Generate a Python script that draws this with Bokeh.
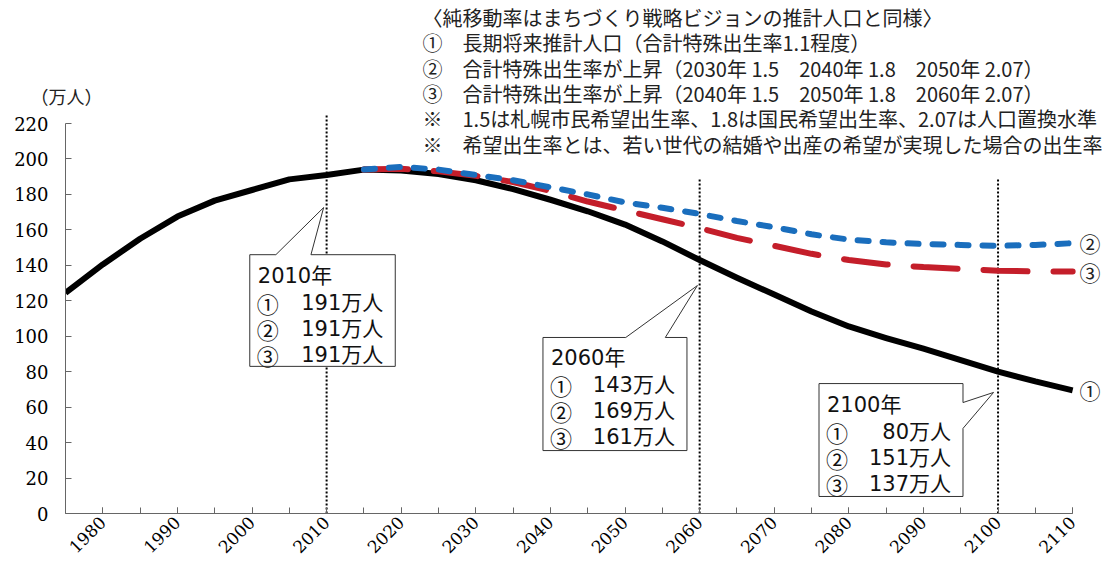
import math
from bokeh.plotting import figure
from bokeh.models import FixedTicker, Label, LinearAxis
from bokeh.embed import file_html
from bokeh.resources import INLINE

# ---------------- data ----------------
years = [1975, 1980, 1985, 1990, 1995, 2000, 2005, 2010, 2015, 2020, 2025, 2030, 2035, 2040,
         2045, 2050, 2055, 2060, 2065, 2070, 2075, 2080, 2085, 2090, 2095, 2100, 2105, 2110]
pop1 = [124.5, 140.5, 155, 167.5, 176.5, 182.5, 188.5, 191, 194, 193.5, 191.5, 188, 183, 177,
        170.5, 163, 153.5, 143, 133, 123.5, 114, 105.5, 99, 93, 86.5, 80, 74.5, 69.5]

years_proj = [2015, 2020, 2025, 2030, 2035, 2040, 2045, 2050, 2055, 2060,
              2065, 2070, 2075, 2080, 2085, 2090, 2095, 2100, 2105, 2110]
pop2 = [194, 195.5, 194, 191, 188, 184, 180, 175.5, 172.5, 169,
        165, 161.5, 157.5, 154.5, 153, 152, 151.5, 151, 151.5, 152.5]
pop3 = [194, 194.5, 193, 190.5, 187, 182, 176, 171, 166, 161,
        155.5, 151, 146.5, 143, 140.5, 139, 138, 137, 136.5, 136.5]

x_ticks = list(range(1980, 2111, 10))
x_minor = list(range(1975, 2111, 5))
y_ticks = list(range(0, 221, 20))

marker_years = [2010, 2060, 2100]
callout_titles = ["2010年", "2060年", "2100年"]
callout_vals = [["191万人", "191万人", "191万人"],
                ["143万人", "169万人", "161万人"],
                ["80万人", "151万人", "137万人"]]
circled = ["①", "②", "③"]

notes = [
    "〈純移動率はまちづくり戦略ビジョンの推計人口と同様〉",
    "①　長期将来推計人口（合計特殊出生率1.1程度）",
    "②　合計特殊出生率が上昇（2030年 1.5　2040年 1.8　2050年 2.07）",
    "③　合計特殊出生率が上昇（2040年 1.5　2050年 1.8　2060年 2.07）",
    "※　1.5は札幌市民希望出生率、1.8は国民希望出生率、2.07は人口置換水準",
    "※　希望出生率とは、若い世代の結婚や出産の希望が実現した場合の出生率",
]
unit_label = "（万人）"
unit_label_y = 235.8

# ---------------- figure ----------------
# frame spans to the top and right edges of the canvas so that the notes and
# end labels (drawn as annotations) are not clipped; axes are bounded to the data span
p = figure(width=1102, height=562, output_backend="svg", toolbar_location=None,
           x_range=(1975, 2114.0), y_range=(0, 289.4),
           min_border_left=65, min_border_right=0, min_border_top=0, min_border_bottom=49)
p.title.visible = False
p.outline_line_color = None
p.xgrid.visible = False
p.ygrid.visible = False
p.background_fill_color = "white"

serif = "DejaVu Serif"
cjk = "Noto Sans CJK JP"
boxfont = "DejaVu Sans, Noto Sans CJK JP"

xa = p.xaxis[0]
xa.bounds = (1975, 2110)
xa.ticker = FixedTicker(ticks=x_ticks, minor_ticks=x_minor)
xa.major_label_orientation = math.pi / 4
xa.major_tick_in = 6
xa.major_tick_out = 0
xa.minor_tick_in = 6
xa.minor_tick_out = 0
xa.axis_line_color = "#666666"
xa.major_tick_line_color = "#666666"
xa.minor_tick_line_color = "#666666"
xa.major_label_text_font = serif
xa.major_label_text_font_size = "17px"
xa.major_label_text_color = "black"
xa.major_label_standoff = 6

ya = p.yaxis[0]
ya.bounds = (0, 220)
ya.ticker = FixedTicker(ticks=y_ticks)
ya.major_tick_in = 6
ya.major_tick_out = 0
ya.minor_tick_line_color = None
ya.axis_line_color = "#666666"
ya.major_tick_line_color = "#666666"
ya.major_label_text_font = serif
ya.major_label_text_font_size = "18px"
ya.major_label_text_color = "black"
ya.major_label_standoff = 17

# unit label drawn by a line-less helper axis (outermost in the left panel)
ua = LinearAxis(ticker=FixedTicker(ticks=[unit_label_y]),
                major_label_overrides={unit_label_y: unit_label},
                major_label_standoff=-91,
                axis_line_color=None, major_tick_line_color=None, minor_tick_line_color=None,
                major_tick_in=0, major_tick_out=0,
                major_label_text_font=cjk, major_label_text_font_size="18px",
                major_label_text_color="#222222")
p.add_layout(ua, "left")

# dotted marker lines
p.segment(x0=marker_years, y0=[0, 0, 0], x1=marker_years, y1=[224.5, 189.5, 189.5],
          line_color="black", line_width=2, line_dash="2 2")

# series
p.line(years, pop1, line_color="black", line_width=6, line_join="round")
p.line(years_proj, pop3, line_color="#c41e2a", line_width=6, line_dash="44 26", line_cap="round")
p.line(years_proj, pop2, line_color="#1a6ebd", line_width=6, line_dash="11 14", line_cap="round")

# end labels (x in screen px relative to frame, y in data)
end_vals = [pop1[-1], pop2[-1], pop3[-1]]
for c, v in zip(circled, end_vals):
    p.add_layout(Label(x=1014, y=v, x_units="screen", y_units="data", text=c, text_font=cjk,
                       text_font_size="21px", text_color="#222222",
                       text_baseline="middle", text_align="left"))

# callout boxes (layout geometry in data units)
boxes = [
    dict(L=1999.7, R=2019.2, T=146.0, B=83.0, kind="top", b1=2003.2, b2=2007.9, tip=(2009.6, 172.6)),
    dict(L=2039.0, R=2058.3, T=99.3, B=35.5, kind="top", b1=2050.1, b2=2055.4, tip=(2059.7, 128.6)),
    dict(L=2076.0, R=2095.3, T=73.3, B=9.6, kind="right", b1=62.6, b2=48.0, tip=(2099.4, 68.3)),
]
for bx, yr, title, vals in zip(boxes, marker_years, callout_titles, callout_vals):
    L, R, T, B = bx["L"], bx["R"], bx["T"], bx["B"]
    tx, ty = bx["tip"]
    if bx["kind"] == "top":
        xs = [L, bx["b1"], tx, bx["b2"], R, R, L]
        ys = [T, T, ty, T, T, B, B]
    else:
        xs = [L, R, R, tx, R, R, L]
        ys = [T, T, bx["b1"], ty, bx["b2"], B, B]
    p.patch(xs, ys, fill_color="white", line_color="#333333", line_width=1)
    p.add_layout(Label(x=L, y=T, text=title, x_offset=8, y_offset=-21,
                       text_font=boxfont, text_font_size="21px", text_color="#111111",
                       text_baseline="middle"))
    for i, (c, v) in enumerate(zip(circled, vals)):
        p.add_layout(Label(x=L, y=T, text=c, x_offset=7, y_offset=-48 - 26 * i,
                           text_font=cjk, text_font_size="22px", text_color="#111111",
                           text_baseline="middle"))
        p.add_layout(Label(x=R, y=T, text=v, x_offset=-12, y_offset=-48 - 26 * i,
                           text_font=boxfont, text_font_size="21px", text_color="#111111",
                           text_baseline="middle", text_align="right"))

# notes at top (screen px relative to frame)
for i, t in enumerate(notes):
    p.add_layout(Label(x=357, y=496 - 25.3 * i, x_units="screen", y_units="screen", text=t,
                       text_font=cjk, text_font_size="20px", text_color="#222222",
                       text_baseline="middle"))

open("out.html", "w").write(file_html(p, INLINE))
